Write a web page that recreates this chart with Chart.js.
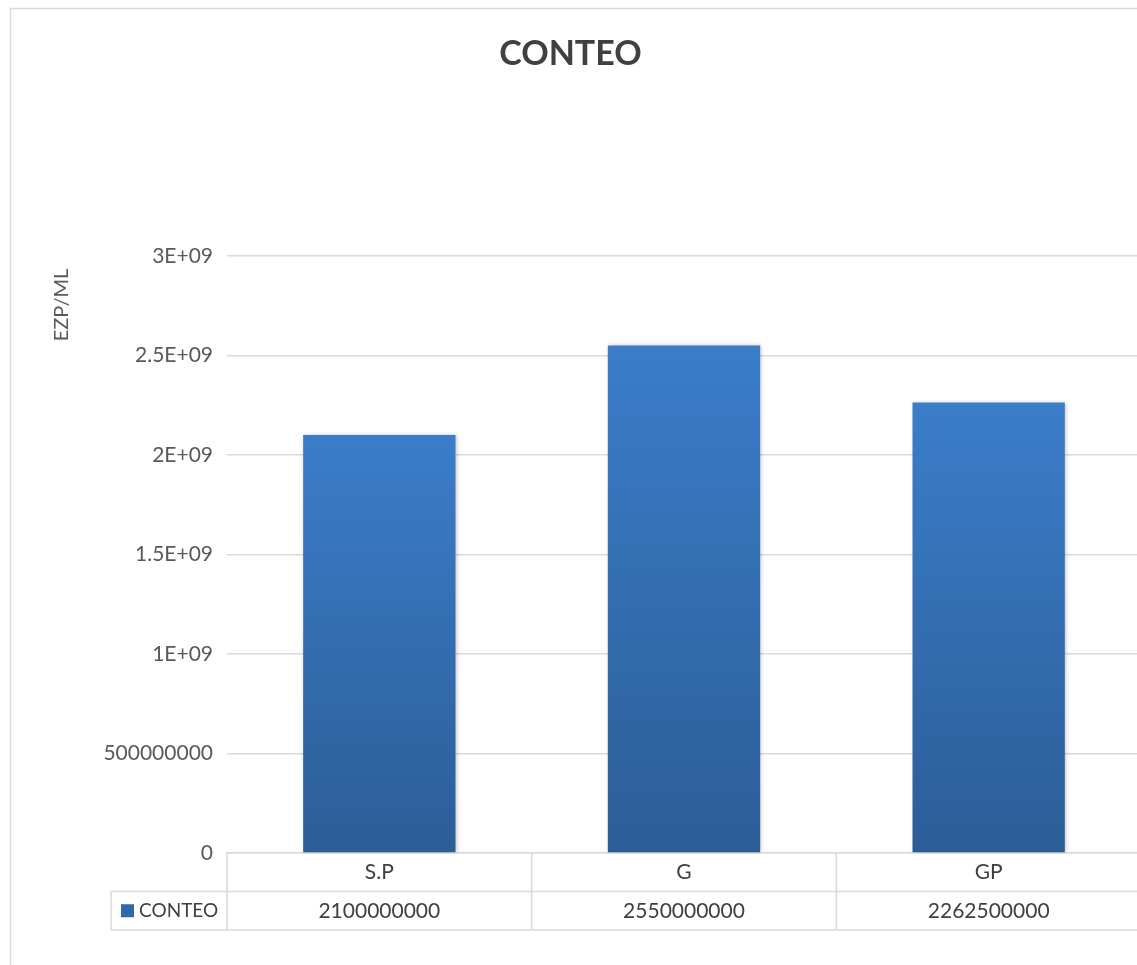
<!DOCTYPE html>
<html lang="es">
<head>
    <meta charset="UTF-8" />
    <title>CONTEO</title>
    <style>
        html, body {
            margin: 0;
            padding: 0;
            overflow: hidden;
            background: #fff;
        }
        #wrap {
            width: 1150px;
            height: 965px;
        }
    </style>
    <script src="https://cdn.jsdelivr.net/npm/chart.js"></script>
</head>
<body>
<div id="wrap">
    <canvas id="chart" width="1150" height="965"></canvas>
</div>

<script>
  const categories = ["S.P", "G", "GP"];
  const seriesName = "CONTEO";
  const conteo = [2100000000, 2550000000, 2262500000];
  const yTickValues = [0, 500000000, 1000000000, 1500000000, 2000000000, 2500000000, 3000000000];
  const yTickLabels = ["0", "500000000", "1E+09", "1.5E+09", "2E+09", "2.5E+09", "3E+09"];
  const yTitle = "EZP/ML";

  const FONT = "Lato, 'Open Sans', sans-serif";
  const GRID = "#d9d9d9";
  const TOP_BLUE = "#3b7dc9";
  const BOTTOM_BLUE = "#2c5d97";

  function barGradient(context) {
    const chart = context.chart;
    const y = chart.scales.y;
    if (!chart.chartArea || !y) return TOP_BLUE;
    const v = context.raw || 0;
    const top = y.getPixelForValue(v);
    const bottom = y.getPixelForValue(0);
    const g = chart.ctx.createLinearGradient(0, top, 0, bottom);
    g.addColorStop(0, TOP_BLUE);
    g.addColorStop(1, BOTTOM_BLUE);
    return g;
  }

  // frame, axis title and the data table under the plot
  const excelBits = {
    id: "excelBits",
    beforeDraw(chart) {
      const ctx = chart.ctx;
      ctx.save();
      ctx.strokeStyle = GRID;
      ctx.lineWidth = 1.5;
      ctx.strokeRect(10.5, 8.5, chart.width + 20, chart.height + 20);
      ctx.restore();
    },
    beforeDatasetsDraw(chart) {
      chart.ctx.save();
      chart.ctx.shadowColor = "rgba(0,0,0,0.22)";
      chart.ctx.shadowBlur = 4;
      chart.ctx.shadowOffsetX = 1;
      chart.ctx.shadowOffsetY = 0;
    },
    afterDatasetsDraw(chart) {
      chart.ctx.restore();
    },
    afterDraw(chart) {
      const ctx = chart.ctx;
      const x = chart.scales.x;
      const area = chart.chartArea;
      const rowH = 38.5;
      const row1 = area.bottom + rowH;
      const row2 = row1 + rowH;
      const legendLeft = area.left - 116;
      const half = (x.right - x.left) / categories.length / 2;

      ctx.save();
      // y axis title
      ctx.fillStyle = "#595959";
      ctx.font = "20px " + FONT;
      ctx.textAlign = "center";
      ctx.textBaseline = "middle";
      ctx.translate(62, 305);
      ctx.rotate(-Math.PI / 2);
      ctx.fillText(yTitle, 0, 0);
      ctx.restore();

      ctx.save();
      ctx.strokeStyle = GRID;
      ctx.lineWidth = 1.5;
      ctx.beginPath();
      ctx.moveTo(legendLeft, row1);
      ctx.lineTo(x.right, row1);
      ctx.moveTo(legendLeft, row2);
      ctx.lineTo(x.right, row2);
      ctx.moveTo(legendLeft, row1);
      ctx.lineTo(legendLeft, row2);
      categories.forEach((c, i) => {
        const cx = x.getPixelForValue(i);
        ctx.moveTo(cx - half, area.bottom);
        ctx.lineTo(cx - half, row2);
        ctx.moveTo(cx + half, area.bottom);
        ctx.lineTo(cx + half, row2);
      });
      ctx.stroke();

      ctx.fillStyle = "#404040";
      ctx.font = "21px " + FONT;
      ctx.textAlign = "center";
      ctx.textBaseline = "middle";
      conteo.forEach((v, i) => {
        ctx.fillText(String(v), x.getPixelForValue(i), (row1 + row2) / 2);
      });

      // legend key in the table
      ctx.fillStyle = "#2f68ab";
      ctx.fillRect(legendLeft + 10, (row1 + row2) / 2 - 6.5, 13, 13);
      ctx.fillStyle = "#404040";
      ctx.font = "19px " + FONT;
      ctx.textAlign = "left";
      ctx.fillText(seriesName, legendLeft + 28, (row1 + row2) / 2);
      ctx.restore();
    }
  };

  new Chart(document.getElementById("chart"), {
    type: "bar",
    data: {
      labels: categories,
      datasets: [
        {
          label: seriesName,
          data: conteo,
          backgroundColor: barGradient,
          borderWidth: 0,
          barPercentage: 0.5,
          categoryPercentage: 1,
        },
      ],
    },
    options: {
      responsive: false,
      animation: false,
      layout: {
        padding: { left: 0, right: 9, top: 0, bottom: 35 },
      },
      scales: {
        y: {
          min: 0,
          max: 3000000000,
          afterBuildTicks: (scale) => {
            scale.ticks = yTickValues.map((v) => ({ value: v }));
          },
          afterFit: (scale) => {
            scale.width = 227;
          },
          ticks: {
            padding: 14,
            color: "#595959",
            font: { family: FONT, size: 21 },
            callback: (value, index) => yTickLabels[index],
          },
          grid: {
            color: GRID,
            lineWidth: 1.5,
            drawTicks: false,
          },
          border: { display: false },
        },
        x: {
          afterFit: (scale) => {
            scale.height = 77;
          },
          ticks: {
            padding: 7,
            color: "#404040",
            font: { family: FONT, size: 21 },
          },
          grid: { display: false, drawTicks: false },
          border: { display: true, color: GRID, width: 1.5 },
        },
      },
      plugins: {
        legend: { display: false },
        tooltip: { enabled: false },
        title: {
          display: true,
          text: "CONTEO",
          color: "#404040",
          font: { family: FONT, size: 34, weight: "bold" },
          padding: { top: 34, bottom: 181 },
        },
      },
    },
    plugins: [excelBits],
  });
</script>
</body>
</html>
